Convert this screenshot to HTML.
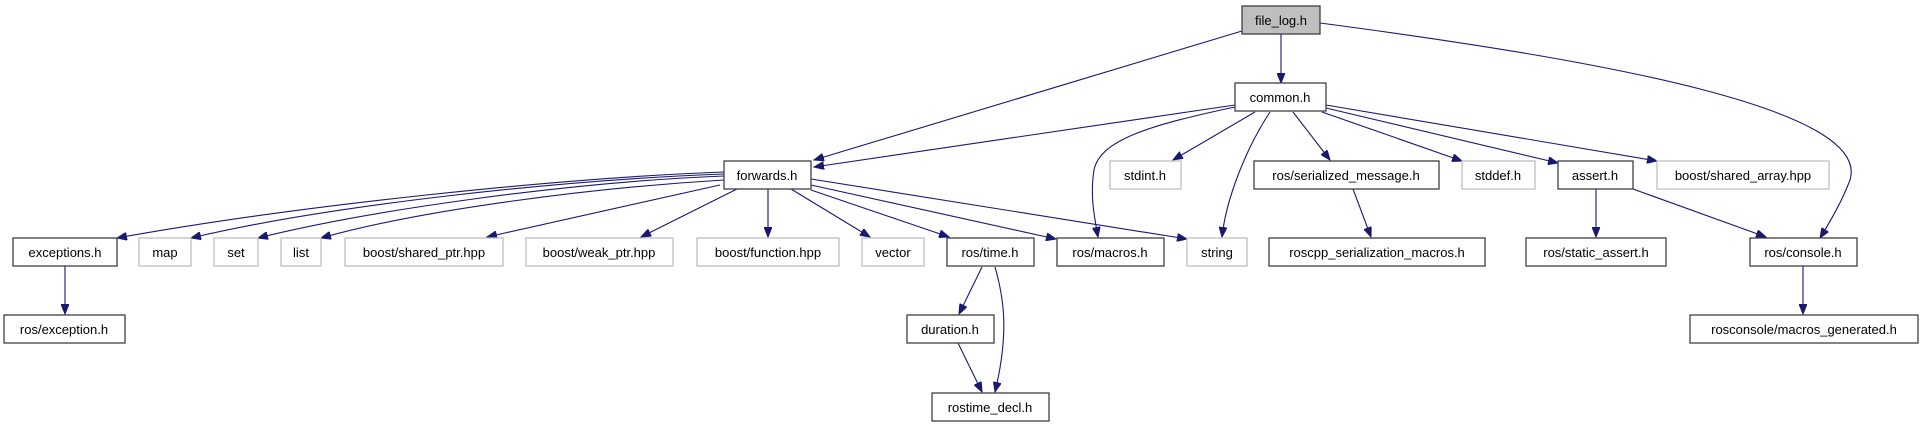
<!DOCTYPE html>
<html><head><meta charset="utf-8"><style>
html,body{margin:0;padding:0;background:#fff;}
svg{display:block;}
text{font-family:"Liberation Sans",sans-serif;font-size:13px;fill:#000;text-anchor:middle;}
.n{fill:#fff;stroke:#404040;stroke-width:1.3;}
.g{fill:#fff;stroke:#bfbfbf;stroke-width:1.3;}
.e{fill:none;stroke:#191970;stroke-width:1.1;}
</style></head><body>
<svg width="1923" height="427" viewBox="0 0 1923 427" xmlns="http://www.w3.org/2000/svg">
<defs><marker id="a" markerUnits="userSpaceOnUse" markerWidth="11" markerHeight="8" refX="10" refY="4" orient="auto"><path d="M0,0 L10,4 L0,8 z" fill="#191970" stroke="#191970"/></marker></defs>
<g marker-end="url(#a)">
<path class="e" d="M1242,31 L814,160"/>
<path class="e" d="M1281,34 L1281,83"/>
<path class="e" d="M1320,23 C1600,60 1885,110 1848,185 C1840,205 1830,222 1820,238"/>
<path class="e" d="M1235,105 L814,167"/>
<path class="e" d="M1235,107 C1150,125 1100,140 1094,170 C1090,195 1094,215 1098,237"/>
<path class="e" d="M1255,112 L1173,160"/>
<path class="e" d="M1270,112 C1245,150 1226,200 1222,237"/>
<path class="e" d="M1293,112 L1330,160"/>
<path class="e" d="M1322,112 L1462,161"/>
<path class="e" d="M1326,108 L1558,163"/>
<path class="e" d="M1326,105 L1657,161"/>
<path class="e" d="M1353,189 L1371,237"/>
<path class="e" d="M1596,189 L1596,237"/>
<path class="e" d="M1633,189 L1766,237"/>
<path class="e" d="M1803,266 L1803,314"/>
<path class="e" d="M65,266 L65,314"/>
<path class="e" d="M982,267 L959,314"/>
<path class="e" d="M995,267 C1003,295 1010,330 995,392"/>
<path class="e" d="M958,343 L982,392"/>
<path class="e" d="M768,189 L768,237"/>
<path class="e" d="M791,189 L870,237"/>
<path class="e" d="M811,190 L949,237"/>
<path class="e" d="M811,185 L1056,239"/>
<path class="e" d="M811,179 L1187,239"/>
<path class="e" d="M737,189 L641,237"/>
<path class="e" d="M720,185 L487,237"/>
<path class="e" d="M724,172 C560,178 300,205 117,238"/>
<path class="e" d="M724,174 C560,180 330,205 191,238"/>
<path class="e" d="M724,176 C570,182 370,210 258,238"/>
<path class="e" d="M724,180 C590,188 420,210 321,238"/>
</g>
<rect x="1242" y="6" width="78" height="28" fill="#bfbfbf" stroke="#404040" stroke-width="1.3"/><text x="1281" y="25">file_log.h</text>
<rect class="n" x="1235" y="83" width="91" height="28"/><text x="1280" y="102">common.h</text>
<rect class="n" x="724" y="161" width="87" height="28"/><text x="767" y="180">forwards.h</text>
<rect class="g" x="1110" y="161" width="71" height="28"/><text x="1145" y="180">stdint.h</text>
<rect class="n" x="1254" y="161" width="185" height="28"/><text x="1346" y="180">ros/serialized_message.h</text>
<rect class="g" x="1462" y="161" width="73" height="28"/><text x="1498" y="180">stddef.h</text>
<rect class="n" x="1558" y="161" width="75" height="28"/><text x="1595" y="180">assert.h</text>
<rect class="g" x="1657" y="161" width="172" height="28"/><text x="1743" y="180">boost/shared_array.hpp</text>
<rect class="n" x="13" y="238" width="104" height="28"/><text x="65" y="257">exceptions.h</text>
<rect class="g" x="139" y="238" width="52" height="28"/><text x="165" y="257">map</text>
<rect class="g" x="214" y="238" width="44" height="28"/><text x="236" y="257">set</text>
<rect class="g" x="281" y="238" width="40" height="28"/><text x="301" y="257">list</text>
<rect class="g" x="345" y="238" width="158" height="28"/><text x="424" y="257">boost/shared_ptr.hpp</text>
<rect class="g" x="526" y="238" width="147" height="28"/><text x="599" y="257">boost/weak_ptr.hpp</text>
<rect class="g" x="697" y="238" width="142" height="28"/><text x="768" y="257">boost/function.hpp</text>
<rect class="g" x="862" y="238" width="62" height="28"/><text x="893" y="257">vector</text>
<rect class="n" x="947" y="238" width="87" height="28"/><text x="990" y="257">ros/time.h</text>
<rect class="n" x="1057" y="238" width="107" height="28"/><text x="1110" y="257">ros/macros.h</text>
<rect class="g" x="1187" y="238" width="60" height="28"/><text x="1217" y="257">string</text>
<rect class="n" x="1269" y="238" width="216" height="28"/><text x="1377" y="257">roscpp_serialization_macros.h</text>
<rect class="n" x="1526" y="238" width="140" height="28"/><text x="1596" y="257">ros/static_assert.h</text>
<rect class="n" x="1750" y="238" width="107" height="28"/><text x="1803" y="257">ros/console.h</text>
<rect class="n" x="4" y="315" width="121" height="28"/><text x="64" y="334">ros/exception.h</text>
<rect class="n" x="907" y="315" width="87" height="28"/><text x="950" y="334">duration.h</text>
<rect class="n" x="1690" y="315" width="228" height="28"/><text x="1804" y="334">rosconsole/macros_generated.h</text>
<rect class="n" x="932" y="393" width="117" height="28"/><text x="990" y="412">rostime_decl.h</text>
</svg>
</body></html>
